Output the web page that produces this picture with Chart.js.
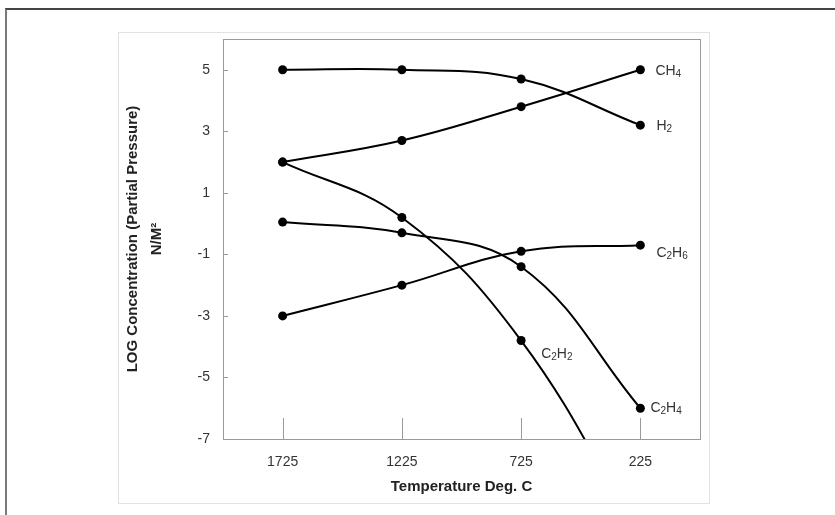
<!DOCTYPE html>
<html>
<head>
<meta charset="utf-8">
<script src="https://cdn.jsdelivr.net/npm/chart.js@4.4.1/dist/chart.umd.min.js"></script>
<style>
  html, body { margin: 0; padding: 0; background: #fff; }
  #wrap { position: relative; width: 835px; height: 515px; overflow: hidden; }
  .outer { position: absolute; left: 5px; top: 8px; width: 840px; height: 520px;
           border-left: 2px solid #7a7a7a; border-top: 2px solid #444; }
  .inner { position: absolute; left: 118px; top: 32px; width: 590px; height: 470px;
           border: 1px solid #e2e2e2; }
  canvas { position: absolute; left: 0; top: 0; }
</style>
</head>
<body>
<div id="wrap">
  <div class="outer"></div>
  <div class="inner"></div>
  <canvas id="chart" width="835" height="515"></canvas>
</div>
<script>
const temps = ["1725", "1225", "725", "225"];
const yTicks = [-7, -5, -3, -1, 1, 3, 5];

const h2 = [5, 5, 4.7, 3.2];
const ch4 = [2, 2.7, 3.8, 5];
const c2h2 = [2, 0.2, -3.8, -10.2];
const c2h4 = [0.05, -0.3, -1.4, -6];
const c2h6 = [-3, -2, -0.9, -0.7];

// label text pieces: [text, isSubscript]
const labels = [
  { series: 1, idx: 3, dx: 15, dy: 1, parts: [["CH", 0], ["4", 1]] },
  { series: 0, idx: 3, dx: 16, dy: 1, parts: [["H", 0], ["2", 1]] },
  { series: 4, idx: 3, dx: 16, dy: 8, parts: [["C", 0], ["2", 1], ["H", 0], ["6", 1]] },
  { series: 2, idx: 2, dx: 20, dy: 14, parts: [["C", 0], ["2", 1], ["H", 0], ["2", 1]] },
  { series: 3, idx: 3, dx: 10, dy: 0, parts: [["C", 0], ["2", 1], ["H", 0], ["4", 1]] },
];

const line = (data) => ({
  data: data,
  borderColor: "#000",
  backgroundColor: "#000",
  borderWidth: 2,
  pointRadius: 4.5,
  pointBorderWidth: 0,
  tension: 0.4,
  fill: false,
});

const decor = {
  id: "decor",
  afterDraw(chart) {
    const c = chart.ctx, a = chart.chartArea;
    const x = chart.scales.x, y = chart.scales.y;
    c.save();
    c.strokeStyle = "#9a9a9a";
    c.lineWidth = 1;
    c.strokeRect(a.left + 0.5, a.top + 0.5, a.right - a.left, a.bottom - a.top);
    c.beginPath();
    temps.forEach((t, i) => {
      const px = Math.round(x.getPixelForTick(i)) + 0.5;
      c.moveTo(px, a.bottom - 21);
      c.lineTo(px, a.bottom);
    });
    yTicks.forEach((v) => {
      const py = Math.round(y.getPixelForValue(v)) + 0.5;
      c.moveTo(a.left, py);
      c.lineTo(a.left + 5, py);
    });
    c.stroke();

    c.fillStyle = "#333";
    c.textBaseline = "middle";
    labels.forEach((l) => {
      const pt = chart.getDatasetMeta(l.series).data[l.idx];
      let px = pt.x + l.dx;
      const py = pt.y + l.dy;
      l.parts.forEach(([txt, sub]) => {
        c.font = sub ? "10px 'Liberation Sans', Arial" : "14px 'Liberation Sans', Arial";
        c.fillText(txt, px, sub ? py + 3 : py);
        px += c.measureText(txt).width;
      });
    });
    c.restore();
  },
};

new Chart(document.getElementById("chart"), {
  type: "line",
  data: {
    labels: temps,
    datasets: [line(h2), line(ch4), line(c2h2), line(c2h4), line(c2h6)],
  },
  options: {
    responsive: false,
    animation: false,
    devicePixelRatio: 1,
    layout: { padding: { left: 0, top: 39, right: 135, bottom: 0 } },
    plugins: { legend: { display: false }, tooltip: { enabled: false } },
    scales: {
      x: {
        offset: true,
        grid: { display: false, drawTicks: false },
        border: { color: "#9a9a9a" },
        ticks: { color: "#333", padding: 15, font: { family: "'Liberation Sans', Arial", size: 14 } },
        title: {
          display: true,
          text: "Temperature Deg. C",
          color: "#222",
          padding: { top: 0, bottom: 19 },
          font: { family: "'Liberation Sans', Arial", size: 15, weight: "bold" },
        },
        afterFit: (s) => { s.height = 76; },
      },
      y: {
        min: -7,
        max: 6,
        grid: { display: false, drawTicks: false },
        border: { color: "#9a9a9a" },
        afterBuildTicks: (s) => { s.ticks = yTicks.map((v) => ({ value: v })); },
        ticks: { color: "#333", padding: 13, font: { family: "'Liberation Sans', Arial", size: 14 } },
        title: {
          display: true,
          text: ["LOG Concentration (Partial Pressure)", "N/M\u00B2"],
          color: "#222",
          padding: { top: 121, bottom: 0 },
          font: { family: "'Liberation Sans', Arial", size: 15, weight: "bold", lineHeight: 1.6 },
        },
        afterFit: (s) => { s.width = 223; },
      },
    },
  },
  plugins: [decor],
});
</script>
</body>
</html>
